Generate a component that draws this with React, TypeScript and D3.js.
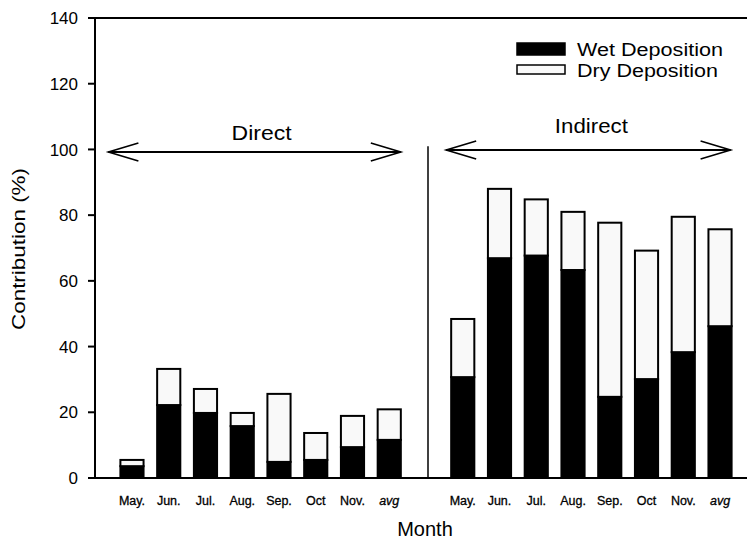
import * as d3 from 'd3';

// Months per group (same labels on both sides)
const months = ['May.', 'Jun.', 'Jul.', 'Aug.', 'Sep.', 'Oct', 'Nov.', 'avg'];
const directWet = [3.6, 22.2, 19.8, 15.8, 4.9, 5.5, 9.4, 11.6];
const directDry = [1.9, 11.0, 7.3, 4.0, 20.7, 8.2, 9.5, 9.3];
const indirectWet = [30.7, 66.9, 67.7, 63.3, 24.7, 30.1, 38.3, 46.2];
const indirectDry = [17.7, 21.1, 17.1, 17.7, 53.0, 39.1, 41.2, 29.5];
const yTicks = [0, 20, 40, 60, 80, 100, 120, 140];
const seriesNames = ['Wet Deposition', 'Dry Deposition'];

const W = 747;
const H = 539;
const font = 'Liberation Sans, Arial, sans-serif';

type Row = { key: string; label: string; wet: number; dry: number };

const rows: Row[] = [
	...months.map((m, i) => ({ key: `D${i}`, label: m, wet: directWet[i], dry: directDry[i] })),
	...months.map((m, i) => ({ key: `I${i}`, label: m, wet: indirectWet[i], dry: indirectDry[i] })),
];

// one empty slot between the two groups
const slots = [...months.map((_, i) => `D${i}`), 'gap', ...months.map((_, i) => `I${i}`)];

export default function App() {
	const axisX = 95;
	const x = d3.scaleBand<string>().domain(slots).range([113.6, 738.4]).paddingInner(0.37).paddingOuter(0.185);
	const y = d3.scaleLinear().domain([0, 140]).range([478, 18]);

	const stacked = d3.stack<Row>().keys(['wet', 'dry'])(rows);
	const fills = ['#000', '#f9f9f9'];

	const bw = x.bandwidth();
	const dividerX = (x('gap') ?? 0) + bw / 2 + 2;

	const arrow = (x1: number, x2: number, yy: number) => (
		<g stroke="#000" strokeWidth={1.6} fill="none">
			<line x1={x1} y1={yy} x2={x2} y2={yy} strokeWidth={2} />
			<polyline points={`${x1 + 30},${yy - 9} ${x1},${yy} ${x1 + 30},${yy + 9}`} />
			<polyline points={`${x2 - 30},${yy - 9} ${x2},${yy} ${x2 - 30},${yy + 9}`} />
		</g>
	);

	const d0 = x('D0') ?? 0;
	const d7 = (x('D7') ?? 0) + bw;
	const i0 = x('I0') ?? 0;
	const i7 = (x('I7') ?? 0) + bw;

	return (
		<svg width={W} height={H} style={{ position: 'absolute', left: 0, top: 0, background: '#fff' }} fontFamily={font}>
			{/* bars */}
			{stacked.map((s, si) => (
				<g key={s.key}>
					{s.map((d) => (
						<rect
							key={d.data.key}
							x={x(d.data.key)}
							y={y(d[1])}
							width={bw}
							height={y(d[0]) - y(d[1])}
							fill={fills[si]}
							stroke="#000"
							strokeWidth={2}
						/>
					))}
				</g>
			))}

			{/* frame: top line, left axis, bottom axis */}
			<line x1={axisX - 7} y1={y(140)} x2={W} y2={y(140)} stroke="#000" strokeWidth={2} />
			<line x1={axisX} y1={y(140)} x2={axisX} y2={y(0)} stroke="#000" strokeWidth={2} />
			<line x1={axisX - 7} y1={y(0)} x2={W} y2={y(0)} stroke="#000" strokeWidth={2} />

			{yTicks.map((t) => (
				<g key={t}>
					<line x1={axisX - 7} x2={axisX} y1={y(t)} y2={y(t)} stroke="#000" strokeWidth={2} />
					<text x={axisX - 17} y={y(t)} dy="0.36em" textAnchor="end" fontSize={17}>
						{t}
					</text>
				</g>
			))}

			{/* month labels */}
			{rows.map((r) => (
				<text
					key={r.key}
					x={(x(r.key) ?? 0) + bw / 2}
					y={505}
					textAnchor="middle"
					fontSize={12.5}
					fontStyle={r.label === 'avg' ? 'italic' : 'normal'}
					stroke="#000"
					strokeWidth={0.3}
				>
					{r.label}
				</text>
			))}

			{/* divider */}
			<line x1={dividerX} x2={dividerX} y1={y(101)} y2={y(0)} stroke="#000" strokeWidth={1.5} />

			{/* group arrows */}
			{arrow(d0 - 12, d7, y(99.2))}
			{arrow(i0 - 5, i7 - 1, y(99.8))}
			<text x={(d0 + d7) / 2 + 1} y={140} textAnchor="middle" fontSize={20} textLength={60} lengthAdjust="spacingAndGlyphs">
				Direct
			</text>
			<text x={(i0 + i7) / 2} y={133} textAnchor="middle" fontSize={20} textLength={73} lengthAdjust="spacingAndGlyphs">
				Indirect
			</text>

			{/* legend */}
			{seriesNames.map((n, i) => (
				<g key={n} transform={`translate(517, ${43 + i * 21})`}>
					<rect width={48} height={i === 0 ? 12 : 9} y={i === 0 ? 0 : 1} fill={fills[i]} stroke="#000" strokeWidth={1.5} />
					<text x={60} y={13} fontSize={18} textLength={i === 0 ? 146 : 141} lengthAdjust="spacingAndGlyphs">
						{n}
					</text>
				</g>
			))}

			{/* axis titles */}
			<text x={425} y={536} textAnchor="middle" fontSize={20}>
				Month
			</text>
			<text
				transform="translate(25, 249) rotate(-90)"
				textAnchor="middle"
				fontSize={19}
				textLength={162}
				lengthAdjust="spacingAndGlyphs"
			>
				Contribution (%)
			</text>
		</svg>
	);
}
